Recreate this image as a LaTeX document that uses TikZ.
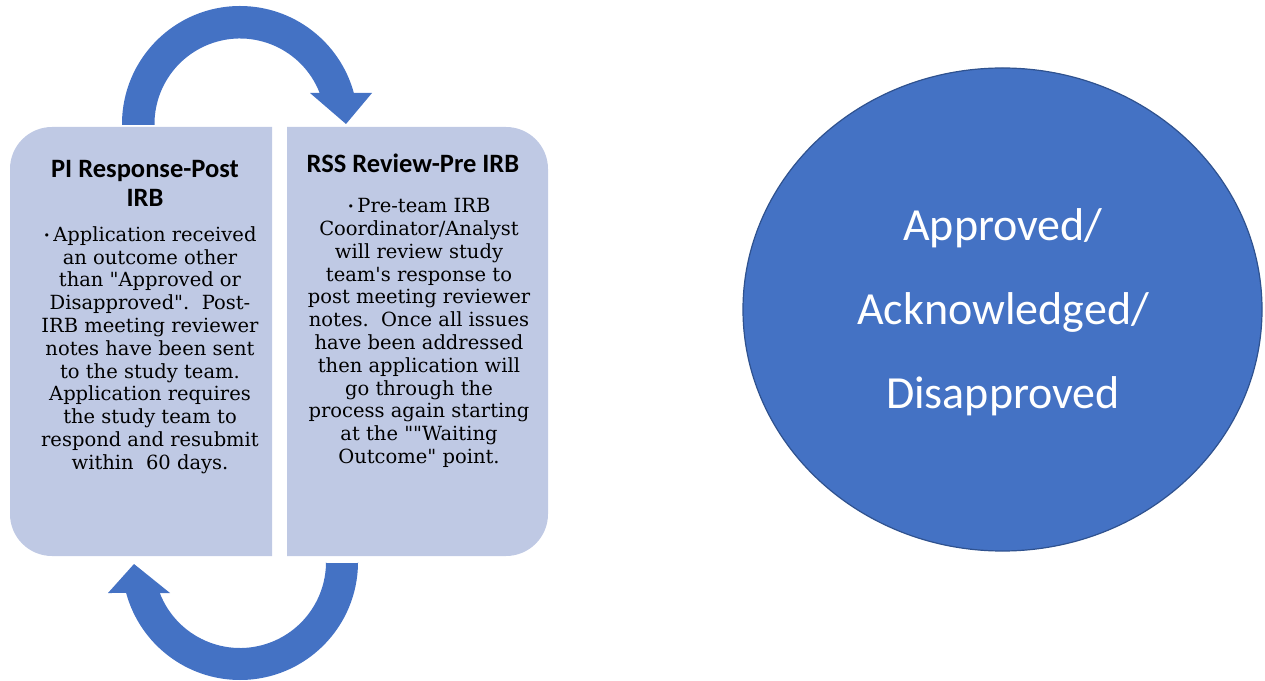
\documentclass[tikz,border=0pt]{standalone}
\usepackage{fontspec}
\newfontfamily\bodyfont{DejaVu Serif}
\newfontfamily\calibri{Carlito}
\definecolor{arrowblue}{RGB}{68,114,196}
\definecolor{boxfill}{RGB}{191,201,228}
\definecolor{ringedge}{RGB}{47,82,143}
\tikzset{
  stagebox/.style={fill=boxfill, draw=none},
  bigarrow/.style={fill=arrowblue, draw=none},
  headtext/.style={font=\calibri\bfseries\fontsize{26.5}{29}\selectfont, align=center, inner sep=0pt, text=black},
  bodytext/.style={font=\bodyfont\fontsize{19.5}{22.8}\selectfont, align=center, inner sep=0pt, text=black},
  outcome/.style={ellipse, fill=arrowblue, draw=ringedge, line width=1.2pt, minimum width=519pt, minimum height=483pt, inner sep=0pt},
  outcometext/.style={font=\calibri\fontsize{46}{84}\selectfont, text=white, align=center, inner sep=0pt}
}
\usetikzlibrary{shapes.geometric}
\newcommand{\bul}{{\fontsize{11}{11}\selectfont\raisebox{2pt}{\textbullet}}\,}
\begin{document}
\begin{tikzpicture}[x=1pt,y=1pt]
\useasboundingbox (0,0) rectangle (1265,680);
% boxes
\path[stagebox] (272,124) -- (52,124) arc[start angle=270, end angle=180, radius=42]
  -- (10,511) arc[start angle=180, end angle=90, radius=42] -- (272,553) -- cycle;
\path[stagebox] (287,124) -- (506,124) arc[start angle=-90, end angle=0, radius=42]
  -- (548,511) arc[start angle=0, end angle=90, radius=42] -- (287,553) -- cycle;
% top arrow
\path[bigarrow] (122,555) -- (122,556) arc[start angle=180, end angle=15.23, radius=118]
  -- (372,587) -- (346,556) -- (310,587)
  -- ([shift={(240,556)}]21.26:85.5) arc[start angle=21.26, end angle=180, radius=85.5]
  -- (154.5,555) -- cycle;
% bottom arrow
\path[bigarrow] (358,117) -- (358,118) arc[start angle=0, end angle=-164.77, radius=118]
  -- (108,87) -- (134,116) -- (170,87)
  -- ([shift={(240,118)}]-158.87:86) arc[start angle=-158.87, end angle=0, radius=86]
  -- (326,117) -- cycle;
% texts
\node[headtext] (lhead) at (145,497) {PI Response-Post\\IRB};
\node[bodytext] (lbody) at (150,330) {\bul Application received\\an outcome other\\than "Approved or\\Disapproved".\ \ Post-\\IRB meeting reviewer\\notes have been sent\\to the study team.\\Application requires\\the study team to\\respond and resubmit\\within\ \ 60 days.};
\node[headtext, anchor=base] (rhead) at (413,507) {RSS Review-Pre IRB};
\node[bodytext] (rbody) at (419,347) {\bul Pre-team IRB\\Coordinator/Analyst\\will review study\\team\textquotesingle s response to\\post meeting reviewer\\notes.\ \ Once all issues\\have been addressed\\then application will\\go through the\\process again starting\\at the ""Waiting\\Outcome" point.};
% outcome
\node[outcome] (result) at (1002.5,370.5) {};
\node[outcometext] (resulttext) at (1003,367.5) {Approved/\\Acknowledged/\\Disapproved};
\end{tikzpicture}
\end{document}
